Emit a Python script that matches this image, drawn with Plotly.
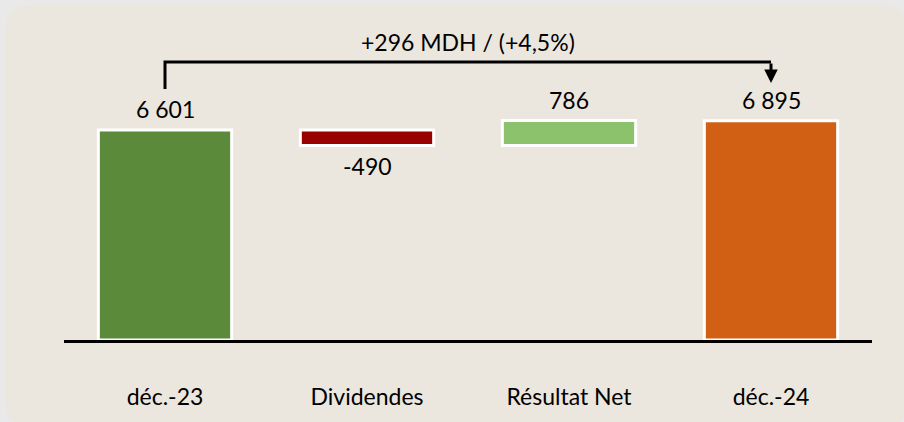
import plotly.graph_objects as go

categories = ["déc.-23", "Dividendes", "Résultat Net", "déc.-24"]
values = [6601, -490, 786, 6895]
measures = ["absolute", "relative", "relative", "total"]
colors = ["#5B8A3A", "#990000", "#8CC26B", "#D26014"]
summary_text = "+296 MDH / (+4,5%)"

# compute bar bases / lengths for the waterfall
bases, lengths, ends = [], [], []
running = 0
for m, v in zip(measures, values):
    if m == "absolute" or m == "total":
        bases.append(0)
        lengths.append(v)
        running = v
    else:
        bases.append(running)
        lengths.append(v)
        running = running + v
    ends.append(bases[-1] + lengths[-1])

def fmt(v):
    return f"{v:,}".replace(",", " ")

labels = [fmt(v) for v in values]

FONT = "Lato"
FS = 23
fig = go.Figure()
fig.add_trace(go.Bar(
    x=categories, y=lengths, base=bases,
    marker=dict(color=colors, line=dict(color="white", width=3)),
    width=0.66, hoverinfo="skip",
))

W, H = 904, 422
ml, mr, mt, mb = 64, 32, 40, 82
pw, ph = W - ml - mr, H - mt - mb
def px_to_paper(x, y):
    return (x - ml) / pw, (H - mb - y) / ph

# rounded background panel
x0, y0, x1, y1, r = 5, 5, 908, 428, 28
pts = [
    ("M", x0 + r, y0), ("L", x1 - r, y0), ("Q", x1, y0, x1, y0 + r),
    ("L", x1, y1 - r), ("Q", x1, y1, x1 - r, y1), ("L", x0 + r, y1),
    ("Q", x0, y1, x0, y1 - r), ("L", x0, y0 + r), ("Q", x0, y0, x0 + r, y0),
]
path = ""
for p in pts:
    cmd = p[0]
    coords = p[1:]
    seg = []
    for i in range(0, len(coords), 2):
        px, py = px_to_paper(coords[i], coords[i + 1])
        seg.append(f"{px:.5f},{py:.5f}")
    path += cmd + " ".join(seg) + " "
path += "Z"

shapes = [dict(type="path", xref="paper", yref="paper", path=path,
               fillcolor="#EBE6DE", line=dict(width=0), layer="below")]

ymax = 9430
y_brk_low, y_brk_top, y_arrow_tip = 7890, 8739, 8079
shapes.append(dict(type="path", xref="x", yref="y",
                   path=f"M 0,{y_brk_low} L 0,{y_brk_top} L 3,{y_brk_top}",
                   line=dict(color="black", width=3)))

annotations = []
for i, (c, e, lab, v) in enumerate(zip(categories, ends, labels, values)):
    annotations.append(dict(x=i, y=e, text=lab, showarrow=False,
                            yshift=21 if v >= 0 else -20,
                            font=dict(family=FONT, size=FS, color="black")))
annotations.append(dict(x=3, y=y_arrow_tip, ax=3, ay=y_brk_top, axref="x", ayref="y",
                        xref="x", yref="y", text="", showarrow=True,
                        arrowhead=2, arrowwidth=3, arrowsize=0.9, arrowcolor="black"))
annotations.append(dict(x=1.5, y=9367, text=summary_text, showarrow=False,
                        font=dict(family=FONT, size=FS, color="black")))

fig.update_layout(
    width=W, height=H,
    margin=dict(l=ml, r=mr, t=mt, b=mb),
    paper_bgcolor="#E9E9E9", plot_bgcolor="rgba(0,0,0,0)",
    showlegend=False, shapes=shapes, annotations=annotations,
    font=dict(family=FONT, size=FS, color="black"),
    xaxis=dict(type="category", range=[-0.5, 3.5], showline=True, linecolor="black",
               linewidth=3, showgrid=False, zeroline=False, ticks="",
               ticklabelstandoff=34, tickfont=dict(family=FONT, size=FS, color="black")),
    yaxis=dict(range=[0, ymax], visible=False, showgrid=False, zeroline=False),
    bargap=0.34,
)
fig.write_html("out.html", config={"displayModeBar": False},
               post_script="document.body.style.margin='0';document.body.style.overflow='hidden';")
